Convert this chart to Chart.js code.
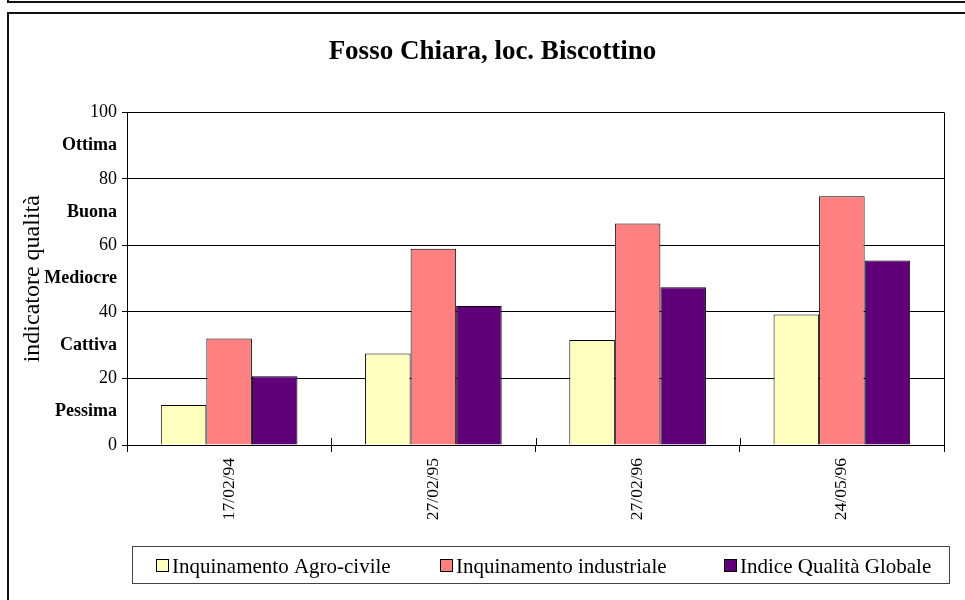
<!DOCTYPE html>
<html lang="it">
<head>
<meta charset="UTF-8">
<title>Fosso Chiara, loc. Biscottino</title>
<style>
  html, body { margin: 0; padding: 0; background: #fff; overflow: hidden; }
  .frame-top { position: absolute; left: 7px; top: -11px; width: 1000px; height: 10px; border: 2px solid #111; }
  .frame { position: absolute; left: 7px; top: 12px; width: 1000px; height: 1000px; border: 2px solid #111; }
  canvas { position: absolute; left: 0; top: 0; }
</style>
</head>
<body>
<div class="frame-top"></div>
<div class="frame"></div>
<canvas id="chart" width="965" height="600"></canvas>

<script src="https://cdn.jsdelivr.net/npm/chart.js@4.4.0/dist/chart.umd.min.js"></script>
<script>
// data
const dates = ['17/02/94', '27/02/95', '27/02/96', '24/05/96'];
const agroCivile = [12, 27.5, 31.6, 39.2];
const industriale = [32, 59, 66.6, 74.8];
const qualitaGlobale = [20.7, 41.8, 47.4, 55.5];
const yTicks = [0, 20, 40, 60, 80, 100];
const qualityClasses = ['Pessima', 'Cattiva', 'Mediocre', 'Buona', 'Ottima'];

const serif = 'Liberation Serif';

// right border of the plot + the small marks above the category axis
const plotFrame = {
    id: 'plotFrame',
    afterDatasetsDraw(chart) {
        const { ctx, chartArea: a, scales: { x } } = chart;
        ctx.save();
        ctx.strokeStyle = '#000';
        ctx.lineWidth = 1;
        ctx.beginPath();
        ctx.moveTo(Math.round(a.right) + 0.5, a.top);
        ctx.lineTo(Math.round(a.right) + 0.5, a.bottom);
        const step = (a.right - a.left) / dates.length;
        for (let i = 1; i < dates.length; i++) {
            const px = Math.round(x.getPixelForValue(i) - step / 2) + 0.5;
            ctx.moveTo(px, a.bottom - 7);
            ctx.lineTo(px, a.bottom);
        }
        ctx.stroke();
        ctx.restore();
    }
};

// boxed legend as in the original
const boxLegend = {
    id: 'boxLegend',
    afterDraw(chart) {
        const { ctx } = chart;
        const itemX = [156, 440, 724];
        ctx.save();
        ctx.strokeStyle = '#444';
        ctx.lineWidth = 1;
        ctx.strokeRect(132.5, 546.5, 817, 37);
        ctx.font = '21px "' + serif + '"';
        ctx.textBaseline = 'alphabetic';
        chart.data.datasets.forEach((ds, i) => {
            ctx.fillStyle = ds.backgroundColor;
            ctx.fillRect(itemX[i] + 0.5, 559.5, 12, 12);
            ctx.strokeStyle = '#000';
            ctx.strokeRect(itemX[i] + 0.5, 559.5, 12, 12);
            ctx.fillStyle = '#000';
            ctx.fillText(ds.label, itemX[i] + 16, 573);
        });
        ctx.restore();
    }
};

const isClass = t => t && t.cls !== undefined;

new Chart(document.getElementById('chart'), {
    type: 'bar',
    data: {
        labels: dates,
        datasets: [
            { label: 'Inquinamento Agro-civile', data: agroCivile, backgroundColor: '#FFFFC0' },
            { label: 'Inquinamento industriale', data: industriale, backgroundColor: '#FF8080' },
            { label: 'Indice Qualità Globale', data: qualitaGlobale, backgroundColor: '#5F0078' }
        ]
    },
    options: {
        responsive: false,
        animation: false,
        layout: { padding: { left: 41, right: 21, top: 0, bottom: 0 } },
        datasets: {
            bar: { borderColor: '#000', borderWidth: 1, categoryPercentage: 0.669, barPercentage: 1 }
        },
        plugins: {
            legend: { display: false },
            tooltip: { enabled: false },
            title: {
                display: true,
                text: 'Fosso Chiara, loc. Biscottino',
                color: '#000',
                font: { family: serif, size: 27, weight: 'bold' },
                padding: { top: 36, bottom: 44 }
            }
        },
        scales: {
            x: {
                grid: { display: true, drawOnChartArea: false, offset: true, color: '#000', tickLength: 7 },
                border: { color: '#000', width: 1 },
                ticks: {
                    minRotation: 90, maxRotation: 90, padding: 6, color: '#000',
                    font: { family: serif, size: 17.5 }
                },
                afterFit: s => { s.height = 155; }
            },
            y: {
                min: 0,
                max: 100,
                afterBuildTicks: s => {
                    const t = [];
                    yTicks.forEach((v, i) => {
                        t.push({ value: v });
                        if (i < yTicks.length - 1) t.push({ value: (v + yTicks[i + 1]) / 2, cls: qualityClasses[i] });
                    });
                    s.ticks = t;
                },
                ticks: {
                    autoSkip: false,
                    padding: 5,
                    color: '#000',
                    callback: (v, i, ticks) => isClass(ticks[i]) ? ticks[i].cls : v,
                    font: c => ({ family: serif, size: 18, weight: isClass(c.tick) ? 'bold' : 'normal' })
                },
                grid: {
                    color: c => isClass(c.tick) ? 'rgba(0,0,0,0)' : '#000',
                    tickColor: c => isClass(c.tick) ? 'rgba(0,0,0,0)' : '#000',
                    tickLength: 5,
                    lineWidth: 1
                },
                border: { color: '#000', width: 1 },
                title: {
                    display: true,
                    text: 'indicatore qualità',
                    color: '#000',
                    font: { family: serif, size: 24 },
                    padding: { top: -23, bottom: 0 }
                },
                afterFit: s => { s.width = 86; }
            }
        }
    },
    plugins: [plotFrame, boxLegend]
});
</script>
</body>
</html>
